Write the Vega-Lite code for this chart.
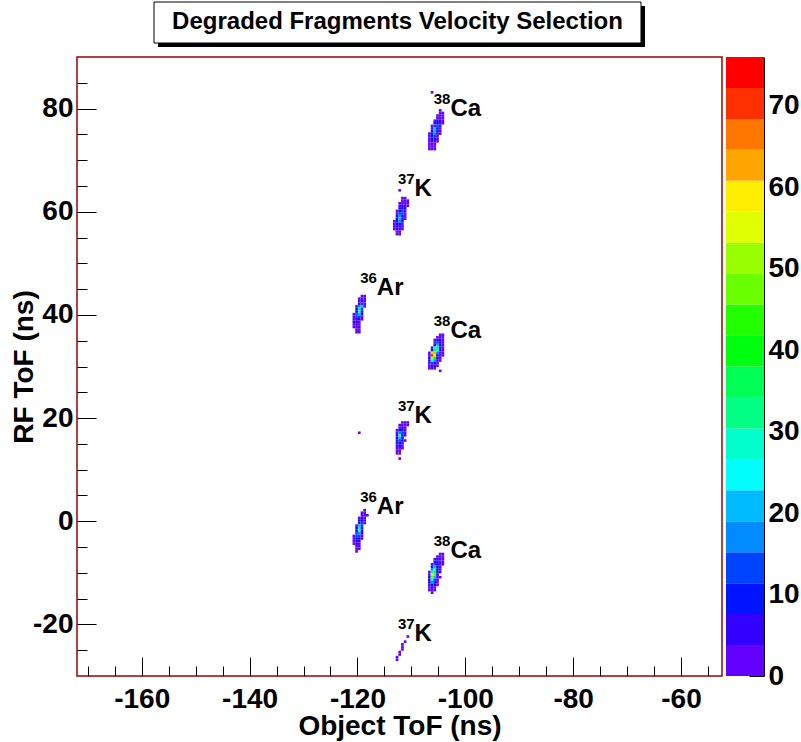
{
 "$schema": "https://vega.github.io/schema/vega-lite/v6.json",
 "padding": {"left": 9, "top": 0, "right": 0, "bottom": 0},
 "background": "white",
 "config": {
  "font": "Liberation Sans",
  "view": {"stroke": null},
  "axis": {"labelFont": "Liberation Sans", "titleFont": "Liberation Sans", "labelFontWeight": "bold", "titleFontWeight": "bold", "labelColor": "black", "titleColor": "black", "tickColor": "black", "grid": false, "domain": false, "labelFlush": false, "labelOverlap": false}
 },
 "datasets": {
  "title": [{"t": "Degraded Fragments Velocity Selection"}],
  "cbar": [
   {"z0": 0, "z1": 3.8}, {"z0": 3.8, "z1": 7.6}, {"z0": 7.6, "z1": 11.4}, {"z0": 11.4, "z1": 15.2}, {"z0": 15.2, "z1": 19},
   {"z0": 19, "z1": 22.8}, {"z0": 22.8, "z1": 26.6}, {"z0": 26.6, "z1": 30.4}, {"z0": 30.4, "z1": 34.2}, {"z0": 34.2, "z1": 38},
   {"z0": 38, "z1": 41.8}, {"z0": 41.8, "z1": 45.6}, {"z0": 45.6, "z1": 49.4}, {"z0": 49.4, "z1": 53.2}, {"z0": 53.2, "z1": 57},
   {"z0": 57, "z1": 60.8}, {"z0": 60.8, "z1": 64.6}, {"z0": 64.6, "z1": 68.4}, {"z0": 68.4, "z1": 72.2}, {"z0": 72.2, "z1": 76}
  ],
  "labels": [
   {"lx": -102.75, "ly": 78.5, "A": "38", "el": "Ca"},
   {"lx": -109.4, "ly": 63.0, "A": "37", "el": "K"},
   {"lx": -116.4, "ly": 43.8, "A": "36", "el": "Ar"},
   {"lx": -102.75, "ly": 35.6, "A": "38", "el": "Ca"},
   {"lx": -109.4, "ly": 19.1, "A": "37", "el": "K"},
   {"lx": -116.4, "ly": 1.5, "A": "36", "el": "Ar"},
   {"lx": -102.75, "ly": -7.1, "A": "38", "el": "Ca"},
   {"lx": -109.4, "ly": -23.2, "A": "37", "el": "K"}
  ],
  "cells": [
   {"x":-105,"y":79,"c":1},{"x":-104.5,"y":79,"c":1},
   {"x":-105.5,"y":78.5,"c":1},{"x":-105,"y":78.5,"c":2},{"x":-104.5,"y":78.5,"c":1},
   {"x":-105.5,"y":78,"c":3},{"x":-105,"y":78,"c":3},{"x":-104.5,"y":78,"c":1},
   {"x":-106,"y":77.5,"c":2},{"x":-105.5,"y":77.5,"c":6},{"x":-105,"y":77.5,"c":4},{"x":-104.5,"y":77.5,"c":1},
   {"x":-106,"y":77,"c":5},{"x":-105.5,"y":77,"c":10},{"x":-105,"y":77,"c":4},{"x":-104.5,"y":77,"c":1},
   {"x":-106.5,"y":76.5,"c":1},{"x":-106,"y":76.5,"c":12},{"x":-105.5,"y":76.5,"c":14},{"x":-105,"y":76.5,"c":3},
   {"x":-106.5,"y":76,"c":3},{"x":-106,"y":76,"c":20},{"x":-105.5,"y":76,"c":10},{"x":-105,"y":76,"c":2},
   {"x":-106.5,"y":75.5,"c":5},{"x":-106,"y":75.5,"c":22},{"x":-105.5,"y":75.5,"c":8},{"x":-105,"y":75.5,"c":1},
   {"x":-107,"y":75,"c":1},{"x":-106.5,"y":75,"c":8},{"x":-106,"y":75,"c":18},{"x":-105.5,"y":75,"c":5},{"x":-105,"y":75,"c":1},
   {"x":-107,"y":74.5,"c":2},{"x":-106.5,"y":74.5,"c":10},{"x":-106,"y":74.5,"c":12},{"x":-105.5,"y":74.5,"c":3},
   {"x":-107,"y":74,"c":3},{"x":-106.5,"y":74,"c":8},{"x":-106,"y":74,"c":6},{"x":-105.5,"y":74,"c":2},
   {"x":-107,"y":73.5,"c":3},{"x":-106.5,"y":73.5,"c":5},{"x":-106,"y":73.5,"c":3},{"x":-105.5,"y":73.5,"c":1},
   {"x":-107,"y":73,"c":2},{"x":-106.5,"y":73,"c":3},{"x":-106,"y":73,"c":2},
   {"x":-107,"y":72.5,"c":2},{"x":-106.5,"y":72.5,"c":2},{"x":-106,"y":72.5,"c":1},
   {"x":-107,"y":72,"c":1},{"x":-106.5,"y":72,"c":1},{"x":-106,"y":72,"c":1},
   {"x":-106.5,"y":83,"c":1},{"x":-105,"y":79.5,"c":1},

   {"x":-112,"y":62.5,"c":1},{"x":-111.5,"y":62.5,"c":1},
   {"x":-112,"y":62,"c":2},{"x":-111.5,"y":62,"c":2},{"x":-111,"y":62,"c":1},
   {"x":-112.5,"y":61.5,"c":1},{"x":-112,"y":61.5,"c":3},{"x":-111.5,"y":61.5,"c":3},{"x":-111,"y":61.5,"c":1},
   {"x":-112.5,"y":61,"c":2},{"x":-112,"y":61,"c":6},{"x":-111.5,"y":61,"c":4},{"x":-111,"y":61,"c":1},
   {"x":-112.5,"y":60.5,"c":4},{"x":-112,"y":60.5,"c":9},{"x":-111.5,"y":60.5,"c":4},
   {"x":-113,"y":60,"c":1},{"x":-112.5,"y":60,"c":8},{"x":-112,"y":60,"c":12},{"x":-111.5,"y":60,"c":3},
   {"x":-113,"y":59.5,"c":3},{"x":-112.5,"y":59.5,"c":12},{"x":-112,"y":59.5,"c":14},{"x":-111.5,"y":59.5,"c":2},
   {"x":-113,"y":59,"c":5},{"x":-112.5,"y":59,"c":16},{"x":-112,"y":59,"c":11},{"x":-111.5,"y":59,"c":1},
   {"x":-113,"y":58.5,"c":8},{"x":-112.5,"y":58.5,"c":20},{"x":-112,"y":58.5,"c":8},{"x":-111.5,"y":58.5,"c":1},
   {"x":-113.5,"y":58,"c":1},{"x":-113,"y":58,"c":10},{"x":-112.5,"y":58,"c":16},{"x":-112,"y":58,"c":5},
   {"x":-113.5,"y":57.5,"c":2},{"x":-113,"y":57.5,"c":9},{"x":-112.5,"y":57.5,"c":10},{"x":-112,"y":57.5,"c":3},
   {"x":-113.5,"y":57,"c":2},{"x":-113,"y":57,"c":6},{"x":-112.5,"y":57,"c":6},{"x":-112,"y":57,"c":2},
   {"x":-113.5,"y":56.5,"c":1},{"x":-113,"y":56.5,"c":4},{"x":-112.5,"y":56.5,"c":3},{"x":-112,"y":56.5,"c":1},
   {"x":-113,"y":56,"c":2},{"x":-112.5,"y":56,"c":2},
   {"x":-113,"y":55.5,"c":1},{"x":-112.5,"y":55.5,"c":1},
   {"x":-112.5,"y":64,"c":1},

   {"x":-119.5,"y":43.5,"c":1},{"x":-119,"y":43.5,"c":2},
   {"x":-120,"y":43,"c":1},{"x":-119.5,"y":43,"c":3},{"x":-119,"y":43,"c":2},
   {"x":-120,"y":42.5,"c":2},{"x":-119.5,"y":42.5,"c":6},{"x":-119,"y":42.5,"c":2},
   {"x":-120,"y":42,"c":6},{"x":-119.5,"y":42,"c":12},{"x":-119,"y":42,"c":2},
   {"x":-120.5,"y":41.5,"c":2},{"x":-120,"y":41.5,"c":18},{"x":-119.5,"y":41.5,"c":20},{"x":-119,"y":41.5,"c":1},
   {"x":-120.5,"y":41,"c":4},{"x":-120,"y":41,"c":36},{"x":-119.5,"y":41,"c":14},
   {"x":-120.5,"y":40.5,"c":8},{"x":-120,"y":40.5,"c":28},{"x":-119.5,"y":40.5,"c":8},
   {"x":-121,"y":40,"c":1},{"x":-120.5,"y":40,"c":12},{"x":-120,"y":40,"c":20},{"x":-119.5,"y":40,"c":4},
   {"x":-121,"y":39.5,"c":2},{"x":-120.5,"y":39.5,"c":14},{"x":-120,"y":39.5,"c":12},{"x":-119.5,"y":39.5,"c":2},
   {"x":-121,"y":39,"c":3},{"x":-120.5,"y":39,"c":10},{"x":-120,"y":39,"c":6},{"x":-119.5,"y":39,"c":1},
   {"x":-121,"y":38.5,"c":4},{"x":-120.5,"y":38.5,"c":6},{"x":-120,"y":38.5,"c":3},
   {"x":-121,"y":38,"c":3},{"x":-120.5,"y":38,"c":4},{"x":-120,"y":38,"c":2},
   {"x":-121,"y":37.5,"c":1},{"x":-120.5,"y":37.5,"c":3},{"x":-120,"y":37.5,"c":2},
   {"x":-120.5,"y":37,"c":2},{"x":-120,"y":37,"c":1},
   {"x":-120.5,"y":36.5,"c":1},{"x":-120,"y":36.5,"c":1},

   {"x":-105,"y":36,"c":1},{"x":-104.5,"y":36,"c":1},
   {"x":-105.5,"y":35.5,"c":2},{"x":-105,"y":35.5,"c":3},{"x":-104.5,"y":35.5,"c":2},
   {"x":-106,"y":35,"c":1},{"x":-105.5,"y":35,"c":5},{"x":-105,"y":35,"c":6},{"x":-104.5,"y":35,"c":2},
   {"x":-106,"y":34.5,"c":3},{"x":-105.5,"y":34.5,"c":12},{"x":-105,"y":34.5,"c":8},{"x":-104.5,"y":34.5,"c":2},
   {"x":-106,"y":34,"c":8},{"x":-105.5,"y":34,"c":20},{"x":-105,"y":34,"c":9},{"x":-104.5,"y":34,"c":2},
   {"x":-106.5,"y":33.5,"c":3},{"x":-106,"y":33.5,"c":30},{"x":-105.5,"y":33.5,"c":32},{"x":-105,"y":33.5,"c":6},{"x":-104.5,"y":33.5,"c":2},
   {"x":-106.5,"y":33,"c":8},{"x":-106,"y":33,"c":45},{"x":-105.5,"y":33,"c":24},{"x":-105,"y":33,"c":4},{"x":-104.5,"y":33,"c":1},
   {"x":-107,"y":32.5,"c":2},{"x":-106.5,"y":32.5,"c":50},{"x":-106,"y":32.5,"c":64},{"x":-105.5,"y":32.5,"c":18},{"x":-105,"y":32.5,"c":2},{"x":-104.5,"y":32.5,"c":1},
   {"x":-107,"y":32,"c":3},{"x":-106.5,"y":32,"c":72},{"x":-106,"y":32,"c":58},{"x":-105.5,"y":32,"c":10},{"x":-105,"y":32,"c":2},{"x":-104.5,"y":32,"c":1},
   {"x":-107,"y":31.5,"c":5},{"x":-106.5,"y":31.5,"c":52},{"x":-106,"y":31.5,"c":38},{"x":-105.5,"y":31.5,"c":6},{"x":-105,"y":31.5,"c":2},
   {"x":-107,"y":31,"c":4},{"x":-106.5,"y":31,"c":26},{"x":-106,"y":31,"c":16},{"x":-105.5,"y":31,"c":3},{"x":-105,"y":31,"c":1},
   {"x":-107,"y":30.5,"c":3},{"x":-106.5,"y":30.5,"c":14},{"x":-106,"y":30.5,"c":8},{"x":-105.5,"y":30.5,"c":2},
   {"x":-107,"y":30,"c":2},{"x":-106.5,"y":30,"c":6},{"x":-106,"y":30,"c":4},{"x":-105.5,"y":30,"c":1},
   {"x":-107,"y":29.5,"c":1},{"x":-106.5,"y":29.5,"c":2},{"x":-106,"y":29.5,"c":2},
   {"x":-105,"y":29,"c":1},

   {"x":-112,"y":19,"c":1},{"x":-111.5,"y":19,"c":2},{"x":-111,"y":19,"c":1},
   {"x":-112.5,"y":18.5,"c":1},{"x":-112,"y":18.5,"c":3},{"x":-111.5,"y":18.5,"c":3},{"x":-111,"y":18.5,"c":1},
   {"x":-112.5,"y":18,"c":3},{"x":-112,"y":18,"c":6},{"x":-111.5,"y":18,"c":3},
   {"x":-113,"y":17.5,"c":1},{"x":-112.5,"y":17.5,"c":8},{"x":-112,"y":17.5,"c":10},{"x":-111.5,"y":17.5,"c":2},
   {"x":-113,"y":17,"c":3},{"x":-112.5,"y":17,"c":16},{"x":-112,"y":17,"c":12},{"x":-111.5,"y":17,"c":2},
   {"x":-113,"y":16.5,"c":5},{"x":-112.5,"y":16.5,"c":25},{"x":-112,"y":16.5,"c":10},{"x":-111.5,"y":16.5,"c":1},
   {"x":-113,"y":16,"c":6},{"x":-112.5,"y":16,"c":22},{"x":-112,"y":16,"c":8},
   {"x":-113,"y":15.5,"c":7},{"x":-112.5,"y":15.5,"c":15},{"x":-112,"y":15.5,"c":5},{"x":-111.5,"y":15.5,"c":3},
   {"x":-113,"y":15,"c":6},{"x":-112.5,"y":15,"c":10},{"x":-112,"y":15,"c":3},
   {"x":-113,"y":14.5,"c":5},{"x":-112.5,"y":14.5,"c":6},{"x":-112,"y":14.5,"c":2},
   {"x":-113,"y":14,"c":3},{"x":-112.5,"y":14,"c":3},{"x":-112,"y":14,"c":1},
   {"x":-113,"y":13.5,"c":2},{"x":-112.5,"y":13.5,"c":2},
   {"x":-113,"y":13,"c":1},{"x":-112.5,"y":13,"c":1},
   {"x":-112.5,"y":12,"c":1},{"x":-120,"y":17,"c":1},

   {"x":-119,"y":2,"c":1},
   {"x":-119.5,"y":1.5,"c":1},{"x":-119,"y":1.5,"c":2},
   {"x":-119.5,"y":1,"c":3},{"x":-119,"y":1,"c":2},{"x":-118.5,"y":1,"c":1},
   {"x":-120,"y":0.5,"c":1},{"x":-119.5,"y":0.5,"c":5},{"x":-119,"y":0.5,"c":2},
   {"x":-120,"y":0,"c":4},{"x":-119.5,"y":0,"c":8},{"x":-119,"y":0,"c":2},
   {"x":-120,"y":-0.5,"c":10},{"x":-119.5,"y":-0.5,"c":12},{"x":-119,"y":-0.5,"c":1},
   {"x":-120.5,"y":-1,"c":2},{"x":-120,"y":-1,"c":22},{"x":-119.5,"y":-1,"c":14},
   {"x":-120.5,"y":-1.5,"c":4},{"x":-120,"y":-1.5,"c":32},{"x":-119.5,"y":-1.5,"c":10},
   {"x":-120.5,"y":-2,"c":8},{"x":-120,"y":-2,"c":26},{"x":-119.5,"y":-2,"c":6},
   {"x":-120.5,"y":-2.5,"c":12},{"x":-120,"y":-2.5,"c":18},{"x":-119.5,"y":-2.5,"c":4},
   {"x":-121,"y":-3,"c":1},{"x":-120.5,"y":-3,"c":14},{"x":-120,"y":-3,"c":12},{"x":-119.5,"y":-3,"c":2},
   {"x":-121,"y":-3.5,"c":2},{"x":-120.5,"y":-3.5,"c":10},{"x":-120,"y":-3.5,"c":6},{"x":-119.5,"y":-3.5,"c":1},
   {"x":-121,"y":-4,"c":2},{"x":-120.5,"y":-4,"c":6},{"x":-120,"y":-4,"c":4},
   {"x":-121,"y":-4.5,"c":1},{"x":-120.5,"y":-4.5,"c":4},{"x":-120,"y":-4.5,"c":2},
   {"x":-120.5,"y":-5,"c":2},{"x":-120,"y":-5,"c":2},
   {"x":-120.5,"y":-5.5,"c":1},{"x":-120,"y":-5.5,"c":1},
   {"x":-120.5,"y":-6,"c":1},

   {"x":-105,"y":-6.5,"c":1},{"x":-104.5,"y":-6.5,"c":1},
   {"x":-105.5,"y":-7,"c":2},{"x":-105,"y":-7,"c":2},{"x":-104.5,"y":-7,"c":1},
   {"x":-106,"y":-7.5,"c":1},{"x":-105.5,"y":-7.5,"c":4},{"x":-105,"y":-7.5,"c":3},{"x":-104.5,"y":-7.5,"c":1},
   {"x":-106,"y":-8,"c":4},{"x":-105.5,"y":-8,"c":8},{"x":-105,"y":-8,"c":3},{"x":-104.5,"y":-8,"c":1},
   {"x":-106.5,"y":-8.5,"c":2},{"x":-106,"y":-8.5,"c":12},{"x":-105.5,"y":-8.5,"c":10},{"x":-105,"y":-8.5,"c":2},{"x":-104.5,"y":-8.5,"c":1},
   {"x":-106.5,"y":-9,"c":6},{"x":-106,"y":-9,"c":22},{"x":-105.5,"y":-9,"c":10},{"x":-105,"y":-9,"c":2},
   {"x":-106.5,"y":-9.5,"c":18},{"x":-106,"y":-9.5,"c":34},{"x":-105.5,"y":-9.5,"c":8},{"x":-105,"y":-9.5,"c":1},
   {"x":-107,"y":-10,"c":2},{"x":-106.5,"y":-10,"c":34},{"x":-106,"y":-10,"c":44},{"x":-105.5,"y":-10,"c":6},{"x":-105,"y":-10,"c":1},
   {"x":-107,"y":-10.5,"c":3},{"x":-106.5,"y":-10.5,"c":58},{"x":-106,"y":-10.5,"c":30},{"x":-105.5,"y":-10.5,"c":4},
   {"x":-107,"y":-11,"c":4},{"x":-106.5,"y":-11,"c":46},{"x":-106,"y":-11,"c":22},{"x":-105.5,"y":-11,"c":3},{"x":-105,"y":-11,"c":1},
   {"x":-107,"y":-11.5,"c":5},{"x":-106.5,"y":-11.5,"c":30},{"x":-106,"y":-11.5,"c":14},{"x":-105.5,"y":-11.5,"c":2},
   {"x":-107,"y":-12,"c":4},{"x":-106.5,"y":-12,"c":16},{"x":-106,"y":-12,"c":8},{"x":-105.5,"y":-12,"c":2},
   {"x":-107,"y":-12.5,"c":3},{"x":-106.5,"y":-12.5,"c":8},{"x":-106,"y":-12.5,"c":4},{"x":-105.5,"y":-12.5,"c":1},
   {"x":-107,"y":-13,"c":2},{"x":-106.5,"y":-13,"c":4},{"x":-106,"y":-13,"c":2},
   {"x":-107,"y":-13.5,"c":1},{"x":-106.5,"y":-13.5,"c":2},{"x":-106,"y":-13.5,"c":1},
   {"x":-106.5,"y":-14,"c":1},

   {"x":-111,"y":-22.5,"c":1},{"x":-111.5,"y":-23.5,"c":1},{"x":-112,"y":-24,"c":1},{"x":-112,"y":-24.5,"c":1},
   {"x":-112,"y":-25,"c":1},{"x":-112.5,"y":-25.5,"c":1},{"x":-112.5,"y":-26,"c":1},{"x":-113,"y":-26.5,"c":1},{"x":-113,"y":-27,"c":1}
  ]
 },
 "spacing": 4,
 "bounds": "flush",
 "resolve": {"scale": {"color": "independent"}},
 "hconcat": [
  {
   "width": 645, "height": 619,
   "view": {"stroke": "#a00000", "strokeWidth": 1.5},
   "layer": [
    {
     "data": {"name": "cells"},
     "mark": {"type": "rect"},
     "encoding": {
      "x": {"field": "x", "type": "quantitative", "bin": {"step": 0.5, "extent": [-172, -52.4]},
            "scale": {"domain": [-172, -52.4], "nice": false, "zero": false},
            "axis": {"title": "Object ToF (ns)", "values": [-170,-165,-160,-155,-150,-145,-140,-135,-130,-125,-120,-115,-110,-105,-100,-95,-90,-85,-80,-75,-70,-65,-60,-55],
                     "labelExpr": "datum.value % 20 === 0 ? '' + datum.value : ''",
                     "tickSize": {"condition": {"test": "datum.value % 20 === 0", "value": -19}, "value": -10},
                     "labelFontSize": 28, "titleFontSize": 28, "labelPadding": 28, "titlePadding": -10}},
      "y": {"field": "y", "type": "quantitative", "bin": {"step": 0.5, "extent": [-30, 90]},
            "scale": {"domain": [-30, 90], "nice": false, "zero": false},
            "axis": {"title": "RF ToF (ns)", "values": [-25,-20,-15,-10,-5,0,5,10,15,20,25,30,35,40,45,50,55,60,65,70,75,80,85],
                     "labelExpr": "datum.value % 20 === 0 ? '' + datum.value : ''",
                     "tickSize": {"condition": {"test": "datum.value % 20 === 0", "value": -19}, "value": -10},
                     "labelFontSize": 28, "titleFontSize": 28, "labelPadding": 23, "titlePadding": -6}},
      "color": {"aggregate": "sum", "field": "c", "type": "quantitative",
                "scale": {"type": "threshold", "domain": [3.8,7.6,11.4,15.2,19,22.8,26.6,30.4,34.2,38,41.8,45.6,49.4,53.2,57,60.8,64.6,68.4,72.2],
                          "range": ["#6300FF","#3300FF","#0014FF","#0044FF","#008BFF","#00BBFF","#00FFFC","#00FFCC","#00FF85","#00FF55","#00FF0E","#22FF00","#69FF00","#99FF00","#E0FF00","#FFEE00","#FFA700","#FF7700","#FF3000","#FF0000"]},
                "legend": null}
     }
    },
    {
     "data": {"name": "labels"},
     "mark": {"type": "text", "align": "right", "baseline": "alphabetic", "dy": -12, "fontSize": 15, "fontWeight": "bold", "font": "Liberation Sans", "color": "black"},
     "encoding": {
      "x": {"field": "lx", "type": "quantitative", "axis": {"title": "Object ToF (ns)"}},
      "y": {"field": "ly", "type": "quantitative", "axis": {"title": "RF ToF (ns)"}},
      "text": {"field": "A", "type": "nominal"}
     }
    },
    {
     "data": {"name": "labels"},
     "mark": {"type": "text", "align": "left", "baseline": "alphabetic", "fontSize": 24, "fontWeight": "bold", "font": "Liberation Sans", "color": "black"},
     "encoding": {
      "x": {"field": "lx", "type": "quantitative", "axis": {"title": "Object ToF (ns)"}},
      "y": {"field": "ly", "type": "quantitative", "axis": {"title": "RF ToF (ns)"}},
      "text": {"field": "el", "type": "nominal"}
     }
    },
    {
     "data": {"name": "title"},
     "mark": {"type": "rect", "fill": "black", "xOffset": 4, "x2Offset": 4, "yOffset": 4, "y2Offset": 4, "clip": false},
     "encoding": {"x": {"datum": -157.72, "type": "quantitative"}, "x2": {"datum": -67.42}, "y": {"datum": 100.66, "type": "quantitative"}, "y2": {"datum": 92.71}}
    },
    {
     "data": {"name": "title"},
     "mark": {"type": "rect", "fill": "white", "stroke": "black", "strokeWidth": 1, "clip": false},
     "encoding": {"x": {"datum": -157.72, "type": "quantitative"}, "x2": {"datum": -67.42}, "y": {"datum": 100.66, "type": "quantitative"}, "y2": {"datum": 92.71}}
    },
    {
     "data": {"name": "title"},
     "mark": {"type": "text", "fontSize": 24, "fontWeight": "bold", "font": "Liberation Sans", "color": "black", "baseline": "middle", "align": "center", "clip": false},
     "encoding": {"x": {"datum": -112.57, "type": "quantitative"}, "y": {"datum": 96.69, "type": "quantitative"}, "text": {"field": "t", "type": "nominal"}}
    }
   ]
  },
  {
   "width": 38, "height": 619,
   "data": {"name": "cbar"},
   "mark": {"type": "rect"},
   "encoding": {
    "y": {"field": "z0", "type": "quantitative", "scale": {"domain": [0, 76], "nice": false, "zero": false},
          "axis": {"orient": "right", "title": null, "values": [0,10,20,30,40,50,60,70], "tickSize": -15, "domain": true, "domainColor": "black",
                   "labelFontSize": 28, "labelPadding": 19, "labelBaseline": "middle"}},
    "y2": {"field": "z1"},
    "color": {"field": "z0", "type": "quantitative",
              "scale": {"type": "threshold", "domain": [3.8,7.6,11.4,15.2,19,22.8,26.6,30.4,34.2,38,41.8,45.6,49.4,53.2,57,60.8,64.6,68.4,72.2],
                        "range": ["#6300FF","#3300FF","#0014FF","#0044FF","#008BFF","#00BBFF","#00FFFC","#00FFCC","#00FF85","#00FF55","#00FF0E","#22FF00","#69FF00","#99FF00","#E0FF00","#FFEE00","#FFA700","#FF7700","#FF3000","#FF0000"]},
              "legend": null}
   }
  }
 ]
}
